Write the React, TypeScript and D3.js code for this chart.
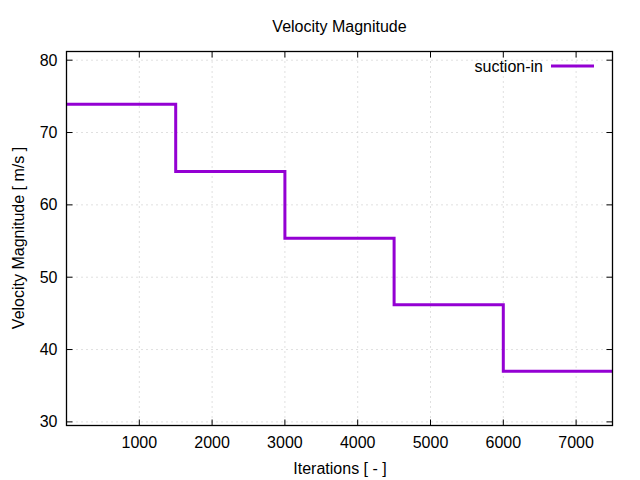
import React from "react";
import * as d3 from "d3";

const iterations = [0, 1500, 3000, 4500, 6000, 7500];
const velocity = [73.9, 64.6, 55.4, 46.2, 37.0, 37.0];
const xTicks = [1000, 2000, 3000, 4000, 5000, 6000, 7000];
const yTicks = [30, 40, 50, 60, 70, 80];
const seriesName = "suction-in";

const W = 640;
const H = 480;
const M = { left: 66.5, right: 612.5, top: 51.5, bottom: 425.5 };
const FONT = "'Liberation Sans', Arial, sans-serif";
const COLOR = "#9400d3";

export default function App() {
  const x = d3.scaleLinear().domain([0, 7500]).range([M.left, M.right]);
  const y = d3.scaleLinear().domain([29.5, 81.2]).range([M.bottom, M.top]);
  const pts = iterations.map((it, i) => [it, velocity[i]] as [number, number]);
  const line = d3
    .line<[number, number]>()
    .x((d) => x(d[0]))
    .y((d) => y(d[1]))
    .curve(d3.curveStepAfter);
  const tl = 6;
  return (
    <svg width={W} height={H} style={{ position: "absolute", left: 0, top: 0 }} fontFamily={FONT}>
      <rect width={W} height={H} fill="#fff" />
      {xTicks.map((t) => (
        <line key={"gx" + t} x1={x(t)} x2={x(t)} y1={M.top} y2={M.bottom} stroke="#c0c0c0" strokeWidth={1} strokeDasharray="1,4" />
      ))}
      {yTicks.map((t) => (
        <line key={"gy" + t} x1={M.left} x2={M.right} y1={y(t)} y2={y(t)} stroke="#c0c0c0" strokeWidth={1} strokeDasharray="1,4" />
      ))}
      {xTicks.map((t) => (
        <g key={"tx" + t}>
          <line x1={x(t)} x2={x(t)} y1={M.bottom} y2={M.bottom - tl} stroke="#000" />
          <line x1={x(t)} x2={x(t)} y1={M.top} y2={M.top + tl} stroke="#000" />
          <text x={x(t)} y={448} textAnchor="middle" fontSize={16}>{t}</text>
        </g>
      ))}
      {yTicks.map((t) => (
        <g key={"ty" + t}>
          <line x1={M.left} x2={M.left + tl} y1={y(t)} y2={y(t)} stroke="#000" />
          <line x1={M.right} x2={M.right - tl} y1={y(t)} y2={y(t)} stroke="#000" />
          <text x={57.5} y={y(t) + 5.5} textAnchor="end" fontSize={16}>{t}</text>
        </g>
      ))}
      <path d={line(pts) || ""} fill="none" stroke={COLOR} strokeWidth={3} />
      <rect x={M.left} y={M.top} width={M.right - M.left} height={M.bottom - M.top} fill="none" stroke="#000" strokeWidth={1.3} />
      <text x={543} y={71.5} textAnchor="end" fontSize={16}>{seriesName}</text>
      <line x1={551} x2={594} y1={66} y2={66} stroke={COLOR} strokeWidth={3} />
      <text x={339.5} y={31.5} textAnchor="middle" fontSize={16}>Velocity Magnitude</text>
      <text x={340} y={473.5} textAnchor="middle" fontSize={16}>Iterations [ - ]</text>
      <text transform={`translate(23.5,238) rotate(-90)`} textAnchor="middle" fontSize={16}>Velocity Magnitude [ m/s ]</text>
    </svg>
  );
}
